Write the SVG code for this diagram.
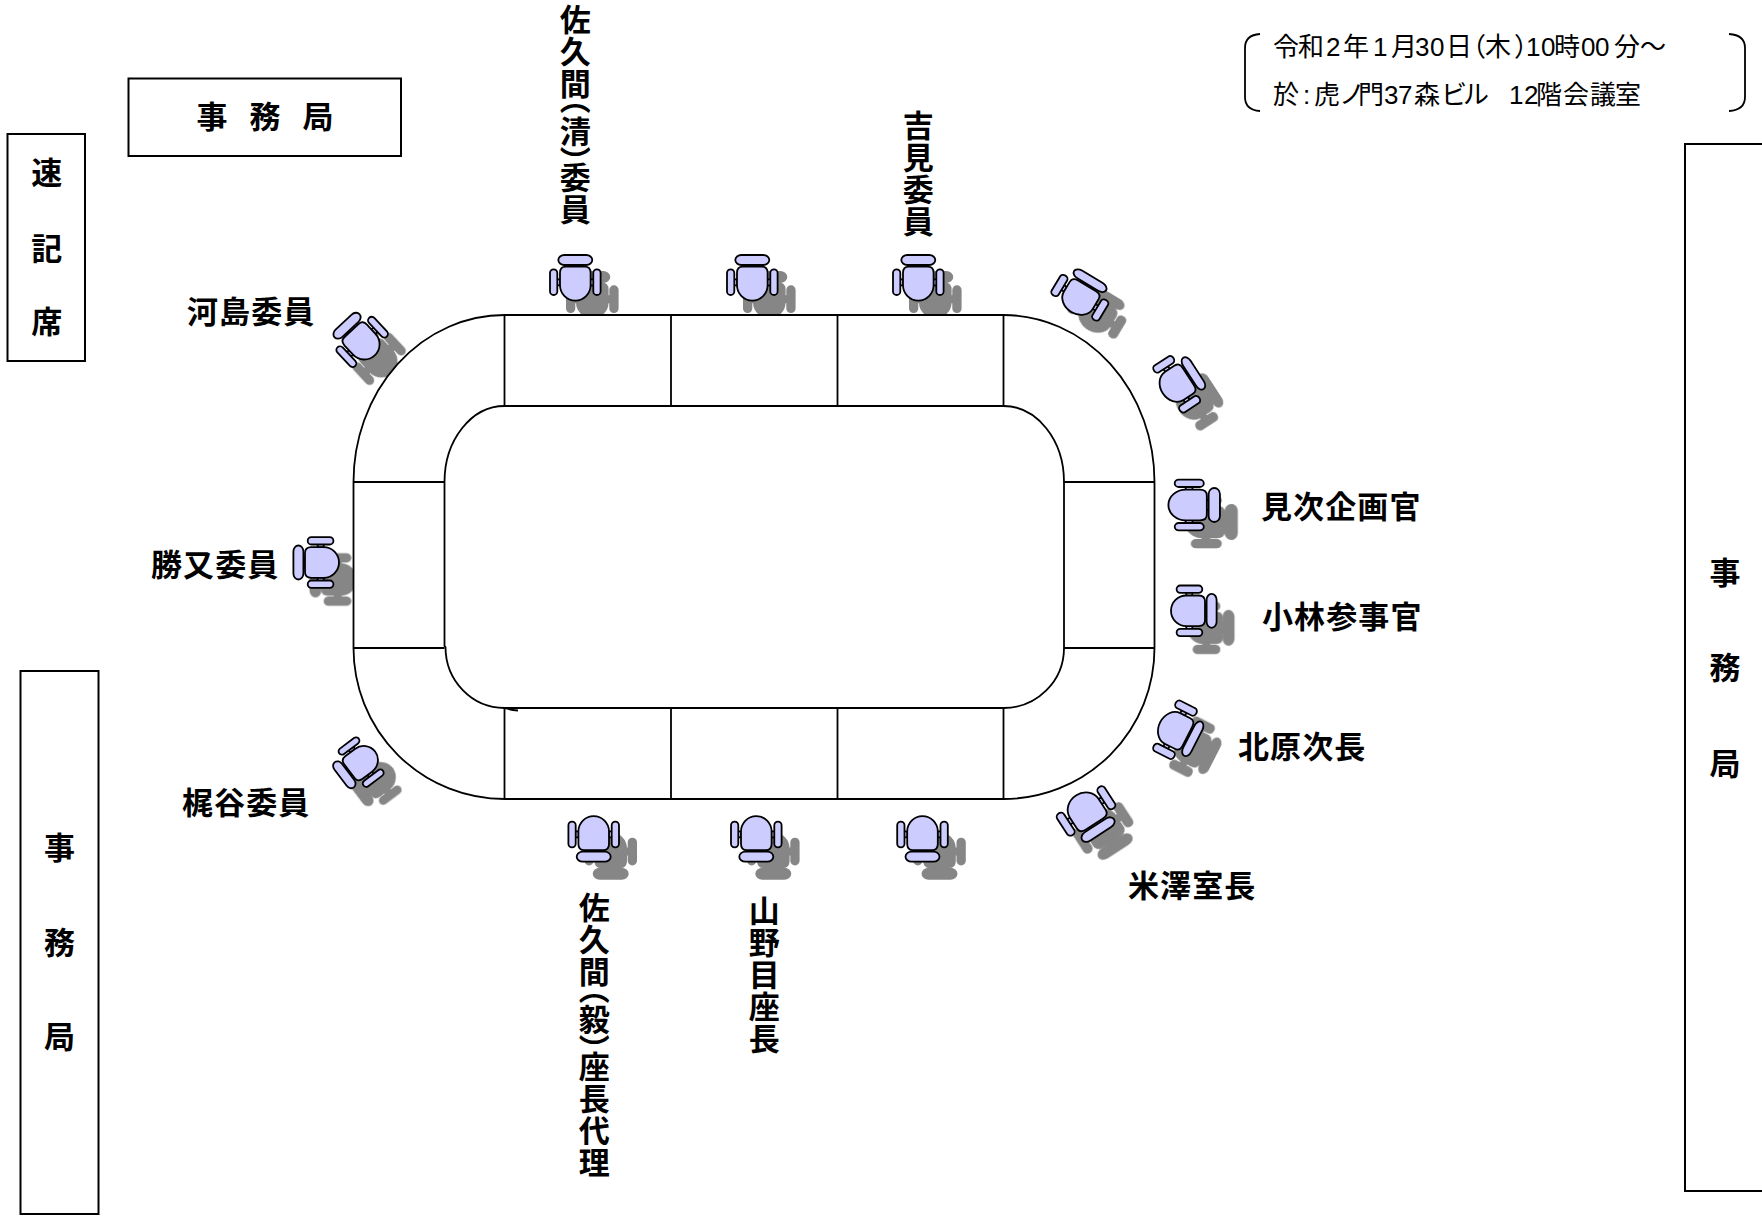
<svg xmlns="http://www.w3.org/2000/svg" width="1762" height="1216" viewBox="0 0 1762 1216">
<style>
text{font-family:"Noto Sans CJK JP","Liberation Sans",sans-serif;fill:#000}
.b{font-size:31px;font-weight:700}
.m{text-anchor:middle}
.h{letter-spacing:1.1px}
.v{writing-mode:vertical-rl;text-orientation:upright;letter-spacing:1px}
.n{font-family:"Liberation Sans","Noto Sans CJK JP",sans-serif;font-size:26px}
.box{fill:#fff;stroke:#000;stroke-width:2}
.ln{fill:none;stroke:#000;stroke-width:1.8}
.c{fill:#ccf;stroke:#000;stroke-width:1.8}
.s{fill:#868686;stroke:#868686;stroke-width:2;filter:url(#blur)}
.t{fill:#fff;stroke:#000;stroke-width:1.8}
</style>
<defs>
<filter id="blur" x="-20%" y="-20%" width="140%" height="140%"><feGaussianBlur stdDeviation="0.7"/></filter>
<g id="chair">
<rect x="-5" y="-14.3" width="10" height="3" vector-effect="non-scaling-stroke"/>
<rect x="-17" y="-23.3" width="34" height="10" rx="6" ry="5" vector-effect="non-scaling-stroke"/>
<rect x="-18.5" y="1" width="3.5" height="6" vector-effect="non-scaling-stroke"/>
<rect x="15" y="1" width="3.5" height="6" vector-effect="non-scaling-stroke"/>
<path d="M-9.5-11.7H9.5Q15.3-11.7 15.3-5.5V7A15.3 15.3 0 0 1-15.3 7V-5.5Q-15.3-11.7-9.5-11.7Z" vector-effect="non-scaling-stroke"/>
<rect x="-25.3" y="-9" width="7.3" height="25.7" rx="3.6" vector-effect="non-scaling-stroke"/>
<rect x="18" y="-9" width="7.3" height="25.7" rx="3.6" vector-effect="non-scaling-stroke"/>
</g>
</defs>
<rect width="1762" height="1216" fill="#fff"/>

<g id="chair-top-1" transform="translate(575.3 278.3)"><use href="#chair" class="s" transform="translate(17 17)"/><use href="#chair" class="c"/></g>
<g id="chair-top-2" transform="translate(752.3 278.3)"><use href="#chair" class="s" transform="translate(17 17)"/><use href="#chair" class="c"/></g>
<g id="chair-top-3" transform="translate(918.3 278.3)"><use href="#chair" class="s" transform="translate(17 17)"/><use href="#chair" class="c"/></g>
<g id="chair-ur-1" transform="translate(1081.6 294.8)"><use href="#chair" class="s" transform="translate(17 17) rotate(31) scale(1.1 .9)"/><use href="#chair" class="c" transform="rotate(31) scale(1.1 .9)"/></g>
<g id="chair-ur-2" transform="translate(1179.6 382.4)"><use href="#chair" class="s" transform="translate(17 17) rotate(57) scale(1.1 .9)"/><use href="#chair" class="c" transform="rotate(57) scale(1.1 .9)"/></g>
<g id="chair-right-1" transform="translate(1193.6 505)"><use href="#chair" class="s" transform="translate(17 17) rotate(90) scale(1 1.13)"/><use href="#chair" class="c" transform="rotate(90) scale(1 1.13)"/></g>
<g id="chair-right-2" transform="translate(1193.3 610.8)"><use href="#chair" class="s" transform="translate(17 17) rotate(90)"/><use href="#chair" class="c" transform="rotate(90)"/></g>
<g id="chair-lr-1" transform="translate(1178.1 731.3)"><use href="#chair" class="s" transform="translate(17 17) rotate(117) scale(1.12 .9)"/><use href="#chair" class="c" transform="rotate(117) scale(1.12 .9)"/></g>
<g id="chair-lr-2" transform="translate(1088.1 814.2)"><use href="#chair" class="s" transform="translate(17 17) rotate(147) scale(1.12 1)"/><use href="#chair" class="c" transform="rotate(147) scale(1.12 1)"/></g>
<g id="chair-bottom-1" transform="translate(593.7 838.4)"><use href="#chair" class="s" transform="translate(17 17) rotate(180)"/><use href="#chair" class="c" transform="rotate(180)"/></g>
<g id="chair-bottom-2" transform="translate(756.3 838.4)"><use href="#chair" class="s" transform="translate(17 17) rotate(180)"/><use href="#chair" class="c" transform="rotate(180)"/></g>
<g id="chair-bottom-3" transform="translate(922.5 838.4)"><use href="#chair" class="s" transform="translate(17 17) rotate(180)"/><use href="#chair" class="c" transform="rotate(180)"/></g>
<g id="chair-ll" transform="translate(358.2 764.3)"><use href="#chair" class="s" transform="translate(17 17) rotate(-127) scale(.93 .95)"/><use href="#chair" class="c" transform="rotate(-127) scale(.93 .95)"/></g>
<g id="chair-left" transform="translate(316.7 562.5)"><use href="#chair" class="s" transform="translate(17 17) rotate(-90)"/><use href="#chair" class="c" transform="rotate(-90)"/></g>
<g id="chair-ul" transform="translate(359.5 339.1)"><use href="#chair" class="s" transform="translate(17 17) rotate(-43)"/><use href="#chair" class="c" transform="rotate(-43)"/></g>

<g id="table">
<path class="t" d="M504.5 315H1003.5A151 167 0 0 1 1154.5 482V648A151 151 0 0 1 1003.5 799H504.5A151 151 0 0 1 353.5 648V482A151 167 0 0 1 504.5 315Z"/>
<path class="t" d="M504.5 406H1003.5A60.5 76 0 0 1 1064 482V648A60.5 60 0 0 1 1003.5 708H504.5A59 61 0 0 1 445.5 647L444.5 646V482A60 76 0 0 1 504.5 406Z"/>
<path class="ln" d="M504.5 708Q511 710 518 710.5M504.5 315V406M671 315V406M837.5 315V406M1003.5 315V406M504.5 708V799M671 708V799M837.5 708V799M1003.5 708V799M353.5 482H444.5M353.5 648H444.5M1064 482H1154.5M1064 648H1154.5"/>
</g>

<g id="box-top"><rect class="box" x="128.5" y="78.5" width="272.5" height="77.5"/>
<text class="b m" x="212" y="128">事</text><text class="b m" x="265" y="128">務</text><text class="b m" x="318" y="128">局</text></g>
<g id="box-stenographer"><rect class="box" x="7.5" y="134" width="77.5" height="227"/>
<text class="b m" x="46.7" y="184">速</text><text class="b m" x="46.7" y="260">記</text><text class="b m" x="46.7" y="333">席</text></g>
<g id="box-left"><rect class="box" x="20.5" y="671" width="78" height="543"/>
<text class="b m" x="59.6" y="859">事</text><text class="b m" x="59.6" y="954">務</text><text class="b m" x="59.6" y="1048">局</text></g>
<g id="box-right"><rect class="box" x="1685" y="144" width="90" height="1047"/>
<text class="b m" x="1725" y="584">事</text><text class="b m" x="1725" y="679">務</text><text class="b m" x="1725" y="775">局</text></g>

<g id="info">
<path class="ln" d="M1260 34Q1245 35 1245 48V97Q1245 110 1260 111M1729 34Q1745 35 1745 48V97Q1745 110 1729 111"/>
<text class="n" y="56" x="1273 1298 1326 1343 1373 1391 1415 1430 1446 1460 1485 1514 1526 1541 1554 1581 1595 1614 1640">令和2年1月30日（木）10時00分～</text>
<text class="n" y="103.5" x="1273 1303 1314 1339 1358 1384 1398 1414 1441 1463 1509 1524 1536 1563 1590 1615">於:虎ノ門37森ビル12階会議室</text>
</g>

<g id="labels">
<text class="b h" x="187" y="323">河島委員</text>
<text class="b h" x="151" y="576">勝又委員</text>
<text class="b h" x="182" y="814">梶谷委員</text>
<text class="b h" x="1261" y="518">見次企画官</text>
<text class="b h" x="1262" y="628">小林参事官</text>
<text class="b h" x="1238" y="758">北原次長</text>
<text class="b h" x="1128" y="897">米澤室長</text>
<text class="b v" x="575.3"><tspan y="3.5">佐久間</tspan><tspan y="83">（</tspan><tspan y="115.5">清</tspan><tspan y="146">）</tspan><tspan y="161.5">委員</tspan></text>
<text class="b v" x="918.3" y="110">吉見委員</text>
<text class="b v" x="594.3"><tspan y="891.5">佐久間</tspan><tspan y="973">（</tspan><tspan y="1003.5">毅</tspan><tspan y="1034">）</tspan><tspan y="1050.5">座長代理</tspan></text>
<text class="b v" x="764.3" y="895">山野目座長</text>
</g>
</svg>
